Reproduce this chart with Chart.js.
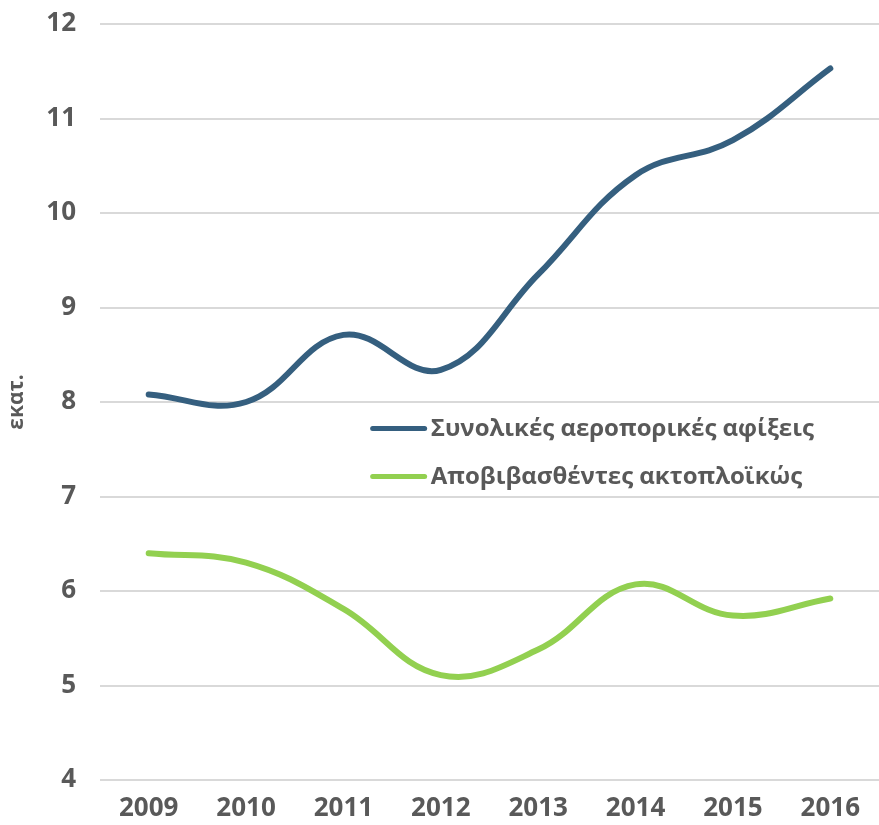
<!DOCTYPE html>
<html>
<head>
<meta charset="utf-8">
<script src="https://cdn.jsdelivr.net/npm/chart.js@4/dist/chart.umd.min.js"></script>
<style>
  html, body { margin: 0; padding: 0; background: #fff; }
  #wrap { width: 879px; height: 825px; }
</style>
</head>
<body>
<div id="wrap"><canvas id="tourismChart" width="879" height="825"></canvas></div>
<script>
const years = ['2009', '2010', '2011', '2012', '2013', '2014', '2015', '2016'];
const airArrivals = [8.08, 8.0, 8.71, 8.34, 9.35, 10.4, 10.77, 11.53];
const seaArrivals = [6.40, 6.30, 5.81, 5.11, 5.38, 6.07, 5.74, 5.92];
const seriesNames = ['Συνολικές αεροπορικές αφίξεις', 'Αποβιβασθέντες ακτοπλοϊκώς'];
const seriesColors = ['#355f7f', '#92d050'];

const gray = '#595959';
const fontFamily = '"Open Sans", "DejaVu Sans", sans-serif';

// legend drawn inside the plot, like the original
const innerLegend = {
    id: 'innerLegend',
    afterDatasetsDraw(chart) {
        const ctx = chart.ctx;
        const area = chart.chartArea;
        const x0 = area.left + (area.right - area.left) * 0.350;
        const y0 = area.top + (area.bottom - area.top) * 0.535;
        ctx.save();
        ctx.font = 'bold 24px ' + fontFamily;
        ctx.textBaseline = 'middle';
        chart.data.datasets.forEach((ds, i) => {
            const y = y0 + i * 48;
            ctx.strokeStyle = ds.borderColor;
            ctx.lineWidth = 5;
            ctx.lineCap = 'round';
            ctx.beginPath();
            ctx.moveTo(x0, y);
            ctx.lineTo(x0 + 52, y);
            ctx.stroke();
            ctx.fillStyle = gray;
            ctx.fillText(ds.label, x0 + 58, y + 1);
        });
        ctx.restore();
    }
};

const ctxTourism = document.getElementById('tourismChart').getContext('2d');
const tourismChart = new Chart(ctxTourism, {
    type: 'line',
    data: {
        labels: years,
        datasets: [{
            label: seriesNames[0],
            data: airArrivals,
            borderColor: seriesColors[0],
            borderWidth: 6,
            borderCapStyle: 'round',
            tension: 0.4,
            pointRadius: 0,
            fill: false
        }, {
            label: seriesNames[1],
            data: seaArrivals,
            borderColor: seriesColors[1],
            borderWidth: 6,
            borderCapStyle: 'round',
            tension: 0.4,
            pointRadius: 0,
            fill: false
        }]
    },
    options: {
        responsive: false,
        animation: false,
        layout: { padding: { top: 24, right: 0, left: 0, bottom: 0 } },
        plugins: {
            legend: { display: false },
            tooltip: { enabled: false }
        },
        scales: {
            x: {
                offset: true,
                grid: { display: false, drawTicks: false },
                border: { display: false },
                ticks: {
                    color: gray,
                    font: { family: fontFamily, size: 26, weight: 'bold' },
                    padding: 13,
                    maxRotation: 0
                },
                afterFit(scale) { scale.height = 45; }
            },
            y: {
                min: 4,
                max: 12,
                grid: { color: '#d9d9d9', lineWidth: 2, drawTicks: false },
                border: { display: false },
                ticks: {
                    stepSize: 1,
                    color: gray,
                    font: { family: fontFamily, size: 26, weight: 'bold' },
                    padding: 24
                },
                title: {
                    display: true,
                    text: 'εκατ.',
                    color: gray,
                    font: { family: fontFamily, size: 21, weight: 'bold' },
                    padding: { top: 4, bottom: 0 }
                },
                afterFit(scale) {
                    scale.width = 100;
                    scale.paddingTop = 0;
                    scale.paddingBottom = 0;
                }
            }
        }
    },
    plugins: [innerLegend]
});
</script>
</body>
</html>
